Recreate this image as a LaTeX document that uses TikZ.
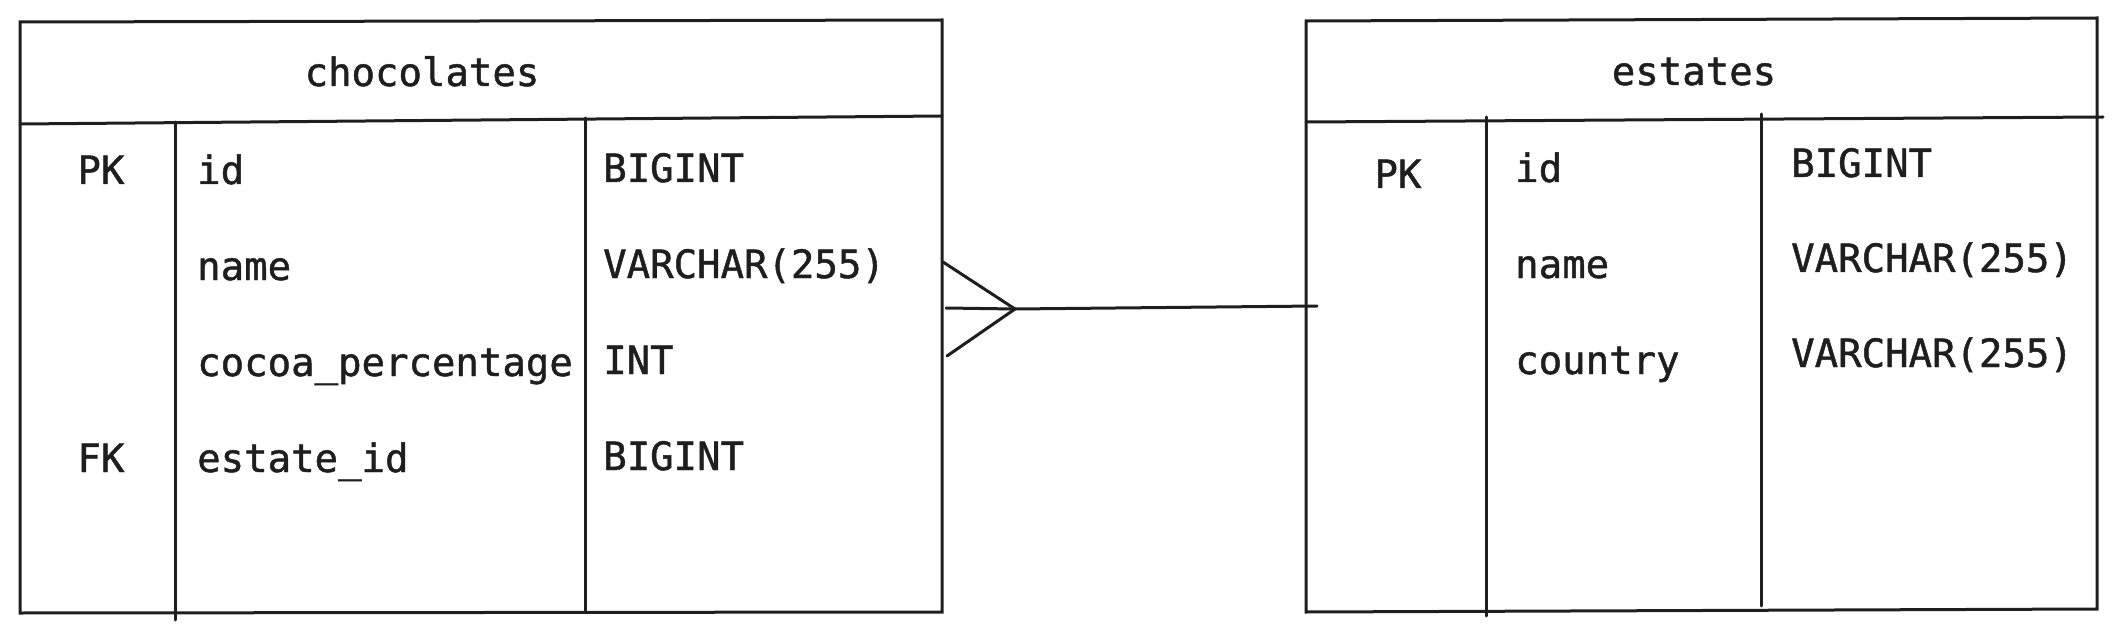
\documentclass[tikz,border=0pt]{standalone}
\usepackage{fontspec}
\newfontfamily\tablefont{DejaVu Sans Mono}[FakeBold=1.2]
\usetikzlibrary{positioning}
\definecolor{ink}{HTML}{1E1E1E}
\tikzset{
  frame/.style={line width=3pt, draw=ink, line cap=round},
  cell/.style={font=\tablefont\fontsize{39}{43}\selectfont, text=ink,
    inner sep=0pt, anchor=base west},
  keycell/.style={cell, anchor=base},
  titlecell/.style={cell, anchor=base}
}
\begin{document}
\begin{tikzpicture}[x=1pt, y=-1pt]
\useasboundingbox (0,0) rectangle (2121,639);

% chocolates
\draw[frame] (20,22) -- (942,20) -- (942,612) -- (20,613) -- cycle;
\draw[frame] (20,124) -- (942,116);
\draw[frame] (175,122) -- (175,620);
\draw[frame] (585,118) -- (585,612);
\node[titlecell] (choc-title) at (422,86) {chocolates};
\foreach \key/\field/\type [count=\i] in
    {PK/id/BIGINT, /name/VARCHAR(255), /cocoa\_percentage/INT, FK/estate\_id/BIGINT}{
  \node[keycell] (choc-key-\i) at (101,184+96*\i-96) {\key};
  \node[cell] (choc-field-\i) at (197,184+96*\i-96) {\field};
  \node[cell] (choc-type-\i) at (603,182+96*\i-96) {\type};
}

% estates
\draw[frame] (1306,21) -- (2097,18) -- (2097,609) -- (1306,612) -- cycle;
\draw[frame] (1306,122) -- (2103,117);
\draw[frame] (1486,117) -- (1486,616);
\draw[frame] (1761,114) -- (1761,606);
\node[titlecell] (est-title) at (1694,85) {estates};
\node[keycell] (est-key-1) at (1398,188) {PK};
\foreach \field/\type [count=\i] in
    {id/BIGINT, name/VARCHAR(255), country/VARCHAR(255)}{
  \node[cell] (est-field-\i) at (1515,182+96*\i-96) {\field};
  \node[cell] (est-type-\i) at (1791,177+95*\i-95) {\type};
}

% many-to-one
\coordinate (choc-rel) at (946,308);
\coordinate (est-rel) at (1317,306);
\coordinate (foot) at (1015,309);
\coordinate (prong-up) at (943,262);
\coordinate (prong-down) at (947,356);
\draw[frame] (choc-rel) -- (foot) -- (est-rel);
\draw[frame] (prong-up) -- (foot) -- (prong-down);
\end{tikzpicture}
\end{document}
